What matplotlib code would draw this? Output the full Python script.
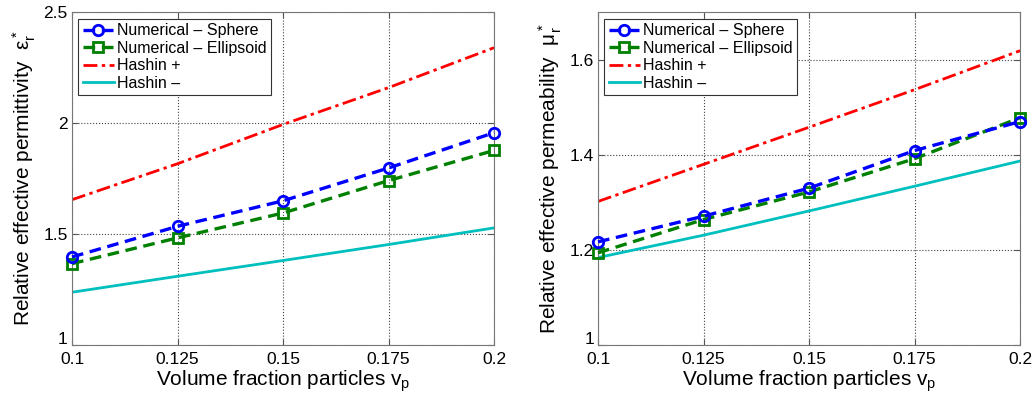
import numpy as np
import matplotlib
matplotlib.use("Agg")
import matplotlib.pyplot as plt
import matplotlib.transforms as mtransforms

plt.rcParams['font.family'] = ['Liberation Sans', 'DejaVu Sans']
plt.rcParams['mathtext.fontset'] = 'custom'
plt.rcParams['mathtext.rm'] = 'Liberation Sans'
plt.rcParams['mathtext.it'] = 'Liberation Sans'

vp = [0.1, 0.125, 0.15, 0.175, 0.2]

# permittivity panel
eps_sphere = [1.397, 1.535, 1.650, 1.798, 1.957]
eps_ellipsoid = [1.367, 1.483, 1.595, 1.741, 1.877]
eps_hashin_up = [1.655, 1.817, 1.994, 2.160, 2.340]
eps_hashin_low = [1.238, 1.310, 1.381, 1.453, 1.528]

# permeability panel
mu_sphere = [1.217, 1.271, 1.330, 1.409, 1.470]
mu_ellipsoid = [1.194, 1.264, 1.322, 1.392, 1.478]
mu_hashin_up = [1.302, 1.380, 1.458, 1.537, 1.619]
mu_hashin_low = [1.184, 1.231, 1.282, 1.334, 1.387]

xticks = [0.1, 0.125, 0.15, 0.175, 0.2]
xticklabels = ['0.1', '0.125', '0.15', '0.175', '0.2']

fig = plt.figure(figsize=[10.32, 4.05], dpi=100)
ax1 = fig.add_axes([0.0698, 0.148, 0.409, 0.822])
ax2 = fig.add_axes([0.5795, 0.148, 0.409, 0.822])


def draw(ax, sph, ell, hup, hlow, ylim, yticks, yticklabels, ylabel):
    ax.plot(vp, sph, '--', color='#0000ff', lw=2.4, marker='o', ms=7.5,
            mfc='none', mew=2, dashes=(3.5, 2), clip_on=False, zorder=4,
            label='Numerical \u2013 Sphere')
    ax.plot(vp, ell, '--', color='#008000', lw=2.4, marker='s', ms=6.5,
            mfc='none', mew=2, dashes=(3.5, 2), clip_on=False, zorder=3,
            label='Numerical \u2013 Ellipsoid')
    ax.plot(vp, hup, '-.', color='#ff0000', lw=2, dashes=(5, 1.6, 1.2, 1.6),
            label='Hashin +')
    ax.plot(vp, hlow, '-', color='#00bfbf', lw=2, label='Hashin \u2013')
    ax.set_xlim(0.1, 0.2)
    ax.set_ylim(*ylim)
    ax.set_xticks(xticks)
    ax.set_xticklabels(xticklabels)
    ax.set_yticks(yticks)
    ax.set_yticklabels(yticklabels)
    ax.tick_params(direction='in', labelsize=12.5, length=4, color='#555555',
                   top=True, right=True, pad=3)
    ax.tick_params(axis='x', pad=5)
    # lift the bottom y label a little so it sits above the corner x label
    lab = ax.get_yticklabels()[0]
    lab.set_transform(lab.get_transform() +
                      mtransforms.ScaledTranslation(0, 5 / 72, fig.dpi_scale_trans))
    ax.grid(True, linestyle=':', color='#444444', lw=0.8)
    for s in ax.spines.values():
        s.set_color('#777777')
    ax.set_xlabel('Volume fraction particles $\\mathregular{v_p}$', fontsize=15, labelpad=1)
    ax.set_ylabel(ylabel, fontsize=15, labelpad=4)
    leg = ax.legend(loc='upper left', fontsize=11.5, fancybox=False,
                    framealpha=1, edgecolor='#333333', borderaxespad=0.4,
                    handlelength=1.9, handletextpad=0.2, labelspacing=0.15,
                    borderpad=0.3)
    leg.get_frame().set_linewidth(0.8)


draw(ax1, eps_sphere, eps_ellipsoid, eps_hashin_up, eps_hashin_low,
     (1, 2.5), [1, 1.5, 2, 2.5], ['1', '1.5', '2', '2.5'],
     'Relative effective permittivity  $\\mathregular{\\varepsilon_r^*}$')
draw(ax2, mu_sphere, mu_ellipsoid, mu_hashin_up, mu_hashin_low,
     (1, 1.7), [1, 1.2, 1.4, 1.6], ['1', '1.2', '1.4', '1.6'],
     'Relative effective permeability  $\\mathregular{\\mu_r^*}$')

fig.savefig('out.png', dpi=100)
